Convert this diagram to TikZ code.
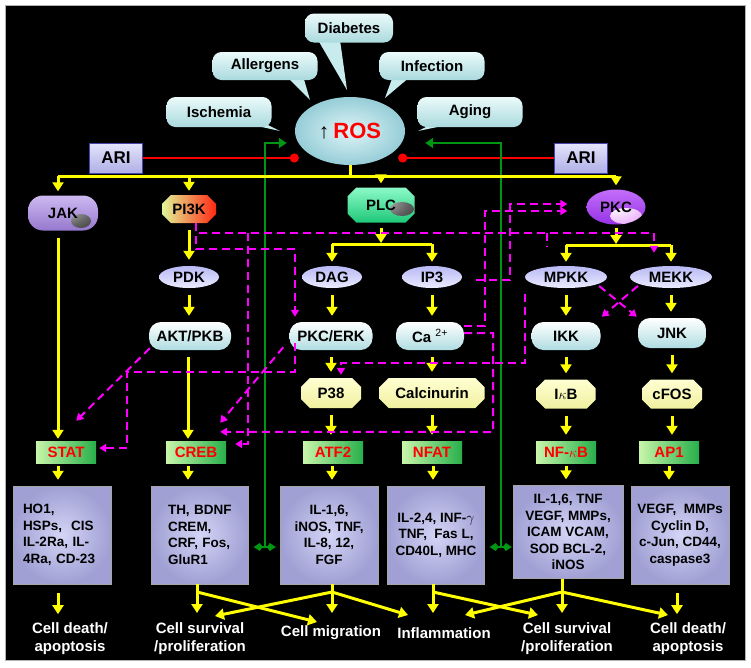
\documentclass[tikz,border=0pt]{standalone}
\usepackage{fontspec}
\setmainfont{Liberation Sans}
\usetikzlibrary{arrows.meta,shapes.geometric,shapes.misc}

\definecolor{bubbleTop}{RGB}{235,250,250}
\definecolor{bubbleBot}{RGB}{170,218,222}
\definecolor{bubbleTail}{RGB}{200,235,238}
\definecolor{rosIn}{RGB}{222,244,247}
\definecolor{rosOut}{RGB}{150,205,215}
\definecolor{ariTop}{RGB}{228,228,252}
\definecolor{ariBot}{RGB}{175,175,230}
\definecolor{ariLine}{RGB}{70,70,170}
\definecolor{jakTop}{RGB}{205,185,240}
\definecolor{jakBot}{RGB}{150,120,205}
\definecolor{pipLeft}{RGB}{225,245,150}
\definecolor{pipMid}{RGB}{140,205,40}
\definecolor{pipRight}{RGB}{255,40,20}
\definecolor{plcTop}{RGB}{140,250,200}
\definecolor{plcBot}{RGB}{30,200,120}
\definecolor{pkcTop}{RGB}{195,110,250}
\definecolor{pkcBot}{RGB}{150,50,230}
\definecolor{pkcHi}{RGB}{235,180,250}
\definecolor{pillBot}{RGB}{175,220,225}
\definecolor{ovalTop}{RGB}{185,185,245}
\definecolor{ovalBot}{RGB}{235,235,255}
\definecolor{octTop}{RGB}{255,255,210}
\definecolor{octBot}{RGB}{240,240,160}
\definecolor{tfLeft}{RGB}{200,245,170}
\definecolor{tfRight}{RGB}{40,175,75}
\definecolor{geneIn}{RGB}{212,212,246}
\definecolor{geneOut}{RGB}{160,160,212}
\definecolor{gLine}{RGB}{0,150,20}
\definecolor{yLine}{RGB}{255,255,0}
\definecolor{mLine}{RGB}{255,0,255}
\definecolor{rLine}{RGB}{255,0,0}

\begin{document}
\begin{tikzpicture}[x=1pt,y=-1pt,>=Stealth,
    font=\fontsize{15}{17}\selectfont\bfseries,
    bubble/.style={rectangle,rounded corners=9pt,top color=bubbleTop,bottom color=bubbleBot,
      minimum width=105pt,minimum height=29pt,inner sep=0pt},
    ari/.style={rectangle,draw=ariLine,line width=1pt,top color=ariTop,bottom color=ariBot,
      minimum width=53pt,minimum height=30pt,inner sep=0pt,font=\fontsize{17}{17}\selectfont\bfseries},
    pill/.style={rectangle,rounded corners=12pt,top color=white,bottom color=pillBot,
      minimum height=28pt,inner sep=0pt},
    oval/.style={ellipse,top color=ovalTop,bottom color=ovalBot,minimum height=22pt,inner sep=0pt},
    octo/.style={chamfered rectangle,chamfered rectangle xsep=7pt,top color=octTop,bottom color=octBot,
      minimum height=30pt,inner sep=0pt},
    tf/.style={rectangle,left color=tfLeft,right color=tfRight,minimum width=60pt,
      minimum height=22pt,inner sep=0pt,text=rLine},
    gene/.style={rectangle,draw=gray!70,inner color=geneIn,outer color=geneOut,
      minimum height=98pt,inner sep=0pt,font=\fontsize{13.5}{16.5}\selectfont\bfseries},
    outcome/.style={align=center,text=white,inner sep=0pt,font=\fontsize{15}{18}\selectfont\bfseries},
    yline/.style={draw=yLine,line width=3pt},
    yarrow/.style={yline,-{Triangle[width=11pt,length=9pt]},shorten >=4pt},
    ychain/.style={yarrow,shorten <=7pt,shorten >=6pt},
    mdash/.style={draw=mLine,line width=2pt,dash pattern=on 8pt off 5pt},
    marrow/.style={mdash,-{Triangle[width=8pt,length=7pt]}},
    garrow/.style={draw=gLine,line width=2.5pt,-{Triangle[width=10pt,length=8pt]}},
    gbar/.style={draw=gLine,line width=2.5pt,
      {Kite[width=8pt,length=9pt,inset=3pt]}-{Kite[width=8pt,length=9pt,inset=3pt]}},
    redline/.style={draw=rLine,line width=2.5pt,-{Circle[length=9pt]}}]

  \useasboundingbox (0,0) rectangle (751,667);
  \fill[white] (0,0) rectangle (751,667);
  \draw[fill=black,draw=gray!60,line width=1pt] (5,5) rectangle (745,660);

  % speech bubble tails
  \fill[bubbleTail] (318,40) -- (340,40) -- (347,90) -- cycle;
  \fill[bubbleTail] (286,76) -- (303,76) -- (310,100) -- cycle;
  \fill[bubbleTail] (248,124) -- (266,124) -- (280,131) -- cycle;
  \fill[bubbleTail] (393,76) -- (411,76) -- (385,98) -- cycle;
  \fill[bubbleTail] (432,124) -- (452,124) -- (418,131) -- cycle;

  \node[bubble,minimum width=88pt] (diab) at (349,28) {Diabetes};
  \node[bubble,minimum height=28pt] (allerg) at (265,66) {Allergens};
  \node[bubble,minimum height=30pt] (isch) at (219,112) {Ischemia};
  \node[bubble,minimum height=28pt] (infect) at (432,66) {Infection};
  \node[bubble,minimum height=30pt] (aging) at (470,112) {Aging};

  \node[ellipse,inner color=rosIn,outer color=rosOut,minimum width=110pt,minimum height=68pt,
    inner sep=0pt] (ros) at (350,131)
    {{\fontsize{21}{21}\selectfont ↑}\hspace{4pt}{\color{rLine}\fontsize{22}{22}\selectfont ROS}};

  \node[ari] (ariL) at (116,158) {ARI};
  \node[ari] (ariR) at (581,158) {ARI};

  % first tier
  \node[rectangle,rounded corners=15pt,top color=jakTop,bottom color=jakBot,minimum width=70pt,
    minimum height=35pt,inner sep=0pt,
    path picture={\shade[ball color=gray!45] ([xshift=18pt,yshift=-8pt]path picture bounding box.center)
      ellipse [x radius=10pt,y radius=7pt];}] (jak) at (63,213) {JAK\hspace{10pt}};
  \node[chamfered rectangle,chamfered rectangle xsep=6pt,left color=pipLeft,middle color=pipMid,
    right color=pipRight,minimum width=54pt,minimum height=28pt,inner sep=0pt] (pi3k) at (189,209) {PI3K};
  \node[chamfered rectangle,chamfered rectangle xsep=8pt,top color=plcTop,bottom color=plcBot,
    minimum width=67pt,minimum height=35pt,inner sep=0pt,
    path picture={\shade[ball color=gray!45] ([xshift=21pt,yshift=-4pt]path picture bounding box.center)
      ellipse [x radius=12pt,y radius=7pt];}] (plc) at (381,205) {PLC};
  \node[ellipse,top color=pkcTop,bottom color=pkcBot,minimum width=59pt,minimum height=35pt,inner sep=0pt,
    path picture={\shade[inner color=white,outer color=pkcHi] ([xshift=10pt,yshift=-9pt]path picture bounding box.center)
      ellipse [x radius=16pt,y radius=8pt];}] (pkc) at (616,207) {PKC};

  % second tier
  \node[oval,minimum width=60pt] (pdk) at (189,277) {PDK};
  \node[pill,minimum width=82pt] (akt) at (190,336) {AKT/PKB};
  \node[oval,minimum width=60pt] (dag) at (332,277) {DAG};
  \node[oval,minimum width=60pt] (ip3) at (432,277) {IP3};
  \node[pill,minimum width=83pt] (pkcerk) at (331,336) {PKC/ERK};
  \node[pill,minimum width=68pt] (ca) at (430,336) {Ca {\mdseries\textsuperscript{2+}}};
  \node[octo,minimum width=60pt] (p38) at (331,393) {P38};
  \node[octo,minimum width=105pt] (calc) at (432,393) {Calcinurin};
  \node[oval,minimum width=82pt] (mpkk) at (566,277) {MPKK};
  \node[oval,minimum width=82pt] (mekk) at (671,277) {MEKK};
  \node[pill,minimum width=69pt] (ikk) at (566,336) {IKK};
  \node[pill,minimum width=68pt,minimum height=30pt] (jnk) at (672,333) {JNK};
  \node[octo,minimum width=59pt,minimum height=29pt] (ikb) at (566,394) {I$\kappa$B};
  \node[octo,minimum width=60pt,minimum height=29pt] (cfos) at (672,394) {cFOS};

  % transcription factors
  \node[tf] (stat) at (66,452) {STAT};
  \node[tf] (creb) at (196,452) {CREB};
  \node[tf] (atf2) at (333,452) {ATF2};
  \node[tf] (nfat) at (432,452) {NFAT};
  \node[tf] (nfkb) at (566,452) {NF-$\kappa$B};
  \node[tf] (ap1) at (669,452) {AP1};

  % target genes
  \node[gene,minimum width=98pt,text width=78pt,align=left] (g1) at (62,535)
    {HO1,\\HSPs,\ \ CIS\\IL-2Ra, IL-\\4Ra, CD-23};
  \node[gene,minimum width=97pt,text width=64pt,align=left] (g2) at (200,535)
    {TH, BDNF\\CREM,\\CRF, Fos,\\GluR1};
  \node[gene,minimum width=98pt,align=center] (g3) at (329,535)
    {IL-1,6,\\iNOS, TNF,\\IL-8, 12,\\FGF};
  \node[gene,minimum width=97pt,align=center] (g4) at (436,535)
    {IL-2,4, INF-$\gamma$\\TNF,\ \ Fas L,\\CD40L, MHC};
  \node[gene,minimum width=110pt,minimum height=93pt,align=center] (g5) at (568,532)
    {IL-1,6, TNF\\VEGF, MMPs,\\ICAM VCAM,\\SOD BCL-2,\\iNOS};
  \node[gene,minimum width=98pt,align=center] (g6) at (680,535)
    {VEGF,\ \ MMPs\\Cyclin D,\\c-Jun, CD44,\\caspase3};

  % outcomes
  \node[outcome] (deathL) at (70,639) {Cell death/\\apoptosis};
  \node[outcome] (survL) at (200,639) {Cell survival\\/proliferation};
  \node[outcome] (migr) at (331,633) {Cell migration};
  \node[outcome] (infl) at (444,633) {Inflammation};
  \node[outcome] (survR) at (567,639) {Cell survival\\/proliferation};
  \node[outcome] (deathR) at (688,639) {Cell death/\\apoptosis};

  % ARI inhibition
  \draw[redline] (ariL.east) -- ([xshift=4pt]ariL -| ros.west);
  \draw[redline] (ariR.west) -- ([xshift=-7pt]ariR -| ros.east);

  % feedback to ROS
  \coordinate (gL) at (265,547);
  \coordinate (gR) at (501,547);
  \draw[garrow] (gL) |- ([xshift=-8pt,yshift=-12pt]ros.west);
  \draw[garrow] (gR) |- ([xshift=20pt,yshift=-12pt]ros.east);
  \draw[gbar] ([xshift=5pt]g2.east |- gL) -- ([xshift=-4pt]g3.west |- gL);
  \draw[gbar] ([xshift=5pt]g4.east |- gR) -- ([xshift=-1pt]g5.west |- gR);

  % main yellow bus
  \coordinate (busL) at (58,176);
  \coordinate (busR) at (616,176);
  \draw[yline] (ros.south) -- (ros.south |- busL);
  \draw[yline] (busL) -- (busR);
  \draw[yarrow] (busL) -- (busL |- jak.north);
  \draw[yarrow] (pi3k.north |- busL) -- (pi3k.north);
  \draw[yarrow] (plc.north |- busL) -- (plc.north);
  \draw[yarrow] (busR) -- (pkc.north);

  % JAK and PI3K branches
  \draw[ychain,shorten >=2pt] ([xshift=-5pt]jak.south) -- ([xshift=-5pt]jak.south |- stat.north);
  \draw[ychain] (pi3k.south) -- (pi3k.south |- pdk.north);
  \draw[ychain] (pdk.south) -- (pdk.south |- akt.north);
  \draw[ychain,shorten >=2pt] ([xshift=-2pt]akt.south) -- ([xshift=-2pt]akt.south |- creb.north);

  % PLC branch
  \coordinate (splitP) at (381,244);
  \draw[yarrow,shorten <=5pt,shorten >=1pt] (plc.south) -- (splitP);
  \draw[yline] (splitP -| dag) -- (splitP -| ip3);
  \draw[yarrow] (splitP -| dag) -- (dag.north);
  \draw[yarrow] (splitP -| ip3) -- (ip3.north);
  \draw[ychain] (dag.south) -- (dag.south |- pkcerk.north);
  \draw[ychain] (ip3.south) -- (ip3.south |- ca.north);
  \draw[ychain] (pkcerk.south) -- (pkcerk.south |- p38.north);
  \draw[ychain] (calc.north |- ca.south) -- (calc.north);
  \draw[ychain] (p38.south) -- (p38.south |- atf2.north);
  \draw[ychain] (calc.south) -- (calc.south |- nfat.north);

  % PKC branch
  \coordinate (splitK) at (616,245);
  \draw[yarrow,shorten <=3pt,shorten >=1pt] (pkc.south) -- (splitK);
  \draw[yline] (splitK -| mpkk) -- (splitK -| mekk);
  \draw[yarrow] (splitK -| mpkk) -- (mpkk.north);
  \draw[yarrow] (splitK -| mekk) -- (mekk.north);
  \draw[ychain] (mpkk.south) -- (mpkk.south |- ikk.north);
  \draw[ychain] (ikk.south) -- (ikk.south |- ikb.north);
  \draw[ychain] (ikb.south) -- (ikb.south |- nfkb.north);
  \draw[ychain] (mekk.south) -- (mekk.south |- jnk.north);
  \draw[ychain] (jnk.south) -- (jnk.south |- cfos.north);
  \draw[ychain] (cfos.south) -- (cfos.south |- ap1.north);

  % factors to genes
  \draw[ychain,shorten <=3pt] ([xshift=-8pt]stat.south) -- ([xshift=-8pt]stat.south |- g1.north);
  \draw[ychain,shorten <=3pt] ([xshift=-8pt]creb.south) -- ([xshift=-8pt]creb.south |- g2.north);
  \draw[ychain,shorten <=3pt] ([xshift=-1pt]atf2.south) -- ([xshift=-1pt]atf2.south |- g3.north);
  \draw[ychain,shorten <=3pt] ([xshift=1pt]nfat.south) -- ([xshift=1pt]nfat.south |- g4.north);
  \draw[ychain,shorten <=3pt] (nfkb.south) -- (nfkb.south |- g5.north);
  \draw[ychain,shorten <=3pt] (ap1.south) -- (ap1.south |- g6.north);

  % cross talk
  \draw[marrow,shorten >=13pt] ([xshift=7pt]pi3k.south) |- ([xshift=-17pt,yshift=33pt]mekk.north)
    -- ([xshift=-17pt]mekk.north);
  \coordinate (railA) at (248,233);
  \draw[marrow,shorten >=9pt] (railA) |- ([yshift=8pt]creb.east);
  \draw[marrow,shorten >=5pt] ([xshift=7pt]pi3k.south) |- ++(99,26) -- ([xshift=-36pt]pkcerk.north);
  \draw[marrow,shorten >=3pt] ([xshift=-36pt,yshift=7pt]pkcerk.south) |- (127,372) |- ([yshift=4pt]stat.east);
  \draw[marrow] ([xshift=1pt,yshift=2pt]akt.south west) -- ([xshift=-20pt,yshift=20pt]stat.north east);
  \draw[marrow] ([xshift=-6pt,yshift=3pt]pkcerk.south west) -- ([xshift=-6pt,yshift=18pt]creb.north east);
  \draw[marrow] ([yshift=3pt]ca.east) -| (493,432) -- ([xshift=-6pt,yshift=9pt]creb.north east);
  \draw[marrow] ([yshift=-4pt]ca.north east) -| (485,211) -- ([xshift=-19pt,yshift=-4pt]pkc.west);
  \draw[marrow] ([xshift=14pt,yshift=-3pt]ip3.east) -| (510,204) -- ([xshift=-19pt,yshift=3pt]pkc.west);
  \draw[marrow,shorten >=3pt] ([yshift=-17pt]mpkk.west) |- (341,363) -- ([xshift=10pt]p38.north);
  \draw[marrow] ([xshift=4pt,yshift=-1pt]mpkk.south east) -- ([xshift=-1pt,yshift=1pt]jnk.north west);
  \draw[marrow] ([xshift=-4pt,yshift=-1pt]mekk.south west) -- ([xshift=1pt,yshift=5pt]ikk.north east);
  \draw[mdash] (547,233) -- (547,247);

  % outcomes
  \coordinate (j2) at (197,592);
  \coordinate (j3) at (332,592);
  \coordinate (j4) at (433,592);
  \coordinate (j5) at (562,592);
  \coordinate (tipRow) at (0,613);
  \draw[yarrow,shorten >=0pt] ([xshift=-4pt,yshift=-9pt]g1.south) -- ([xshift=-4pt,yshift=-30pt]g1.south);
  \draw[yarrow,shorten >=0pt] ([xshift=-3pt,yshift=-9pt]g6.south) -- ([xshift=-3pt,yshift=-30pt]g6.south);
  \draw[yline] ([xshift=-3pt]g2.south) -- (j2);
  \draw[yline] ([xshift=3pt]g3.south) -- (j3);
  \draw[yline] ([xshift=-3pt]g4.south) -- (j4);
  \draw[yline] ([xshift=-6pt]g5.south) -- (j5);
  \draw[yarrow,shorten >=0pt] (j2) -- (j2 |- tipRow);
  \draw[yarrow,shorten >=0pt] (j2) -- (317,622);
  \draw[yarrow,shorten >=0pt] (j3) -- (j3 |- tipRow);
  \draw[yarrow,shorten >=0pt] (j3) -- (215,616);
  \draw[yarrow,shorten >=0pt] (j3) -- (408,615);
  \draw[yarrow,shorten >=0pt] (j4) -- (j4 |- tipRow);
  \draw[yarrow,shorten >=0pt] (j4) -- (538,615);
  \draw[yarrow,shorten >=0pt] (j5) -- (j5 |- tipRow);
  \draw[yarrow,shorten >=0pt] (j5) -- (465,615);
  \draw[yarrow,shorten >=0pt] (j5) -- (668,615);
\end{tikzpicture}
\end{document}
